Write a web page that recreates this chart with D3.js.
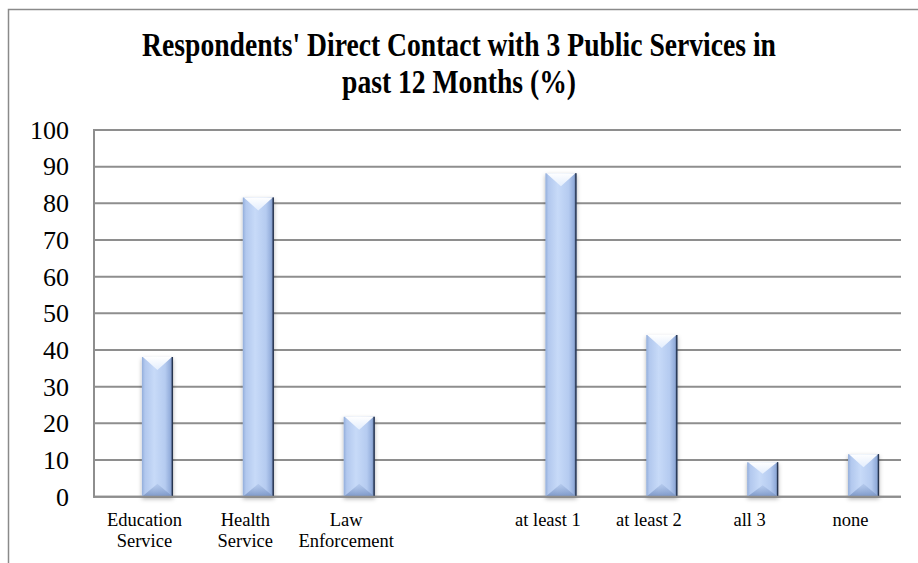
<!DOCTYPE html>
<html>
<head>
<meta charset="utf-8">
<script src="https://cdn.jsdelivr.net/npm/d3@7"></script>
<style>
  html, body { margin: 0; padding: 0; background: #fff; }
  svg { display: block; }
</style>
</head>
<body>
<svg id="chart" width="918" height="563"></svg>
<script>
// Share of respondents with direct contact, by service and by number of services
const categories = ["Education\nService", "Health\nService", "Law\nEnforcement", "", "at least 1", "at least 2", "all 3", "none"];
const values = [38.1, 81.6, 21.8, null, 88.2, 44.1, 9.4, 11.6];
const yTicks = [0, 10, 20, 30, 40, 50, 60, 70, 80, 90, 100];
const titleLines = ["Respondents' Direct Contact with 3 Public Services in", "past 12 Months (%)"];

const svg = d3.select("#chart");
const W = 918, H = 563;
const plot = { left: 94, right: 901, top: 130, bottom: 496.7 };

const x = d3.scaleBand().domain(d3.range(categories.length)).range([plot.left, plot.right]).padding(0);
const y = d3.scaleLinear().domain([0, 100]).range([plot.bottom, plot.top]);

const defs = svg.append("defs");

// Body gradient across the column width
const body = defs.append("linearGradient").attr("id", "barBody").attr("x1", 0).attr("x2", 1).attr("y1", 0).attr("y2", 0);
[["0%", "#93aedb"], ["10%", "#b2c8ee"], ["40%", "#c7daf8"], ["75%", "#b5cbf0"], ["92%", "#92acda"], ["100%", "#4d6187"]]
  .forEach(([o, c]) => body.append("stop").attr("offset", o).attr("stop-color", c));

const topBevel = defs.append("linearGradient").attr("id", "topBevel").attr("x1", 0).attr("x2", 0).attr("y1", 0).attr("y2", 1);
topBevel.append("stop").attr("offset", "0%").attr("stop-color", "#ffffff").attr("stop-opacity", 1);
topBevel.append("stop").attr("offset", "100%").attr("stop-color", "#eaf2fe").attr("stop-opacity", 0.85);

const botBevel = defs.append("linearGradient").attr("id", "botBevel").attr("x1", 0).attr("x2", 0).attr("y1", 0).attr("y2", 1);
botBevel.append("stop").attr("offset", "0%").attr("stop-color", "#9fb7e0").attr("stop-opacity", 0.4);
botBevel.append("stop").attr("offset", "100%").attr("stop-color", "#7893c4").attr("stop-opacity", 0.95);

const shadow = defs.append("filter").attr("id", "shadow").attr("x", "-30%").attr("y", "-10%").attr("width", "160%").attr("height", "130%");
shadow.append("feDropShadow").attr("dx", 0).attr("dy", 2).attr("stdDeviation", 2).attr("flood-color", "#000").attr("flood-opacity", 0.3);

// Outer frame (top and left edges visible)
svg.append("path")
  .attr("d", `M8.5,${H} L8.5,9.5 L${W},9.5`)
  .attr("fill", "none").attr("stroke", "#8a8a8a").attr("stroke-width", 1.5);

// Title, set in a narrowed bold serif
const title = svg.append("g").attr("font-family", "'Liberation Serif', 'Times New Roman', serif")
  .attr("font-weight", "bold").attr("font-size", 33).attr("fill", "#000");
const titleY = [56, 93];
const tNodes = titleLines.map((t, i) => title.append("text").attr("text-anchor", "middle").attr("y", titleY[i]).text(t));
const natural = tNodes[0].node().getComputedTextLength();
const sx = Math.min(1, 634 / natural);
tNodes.forEach(n => n.attr("transform", `translate(459,0) scale(${sx},1)`));

// Gridlines
svg.append("g").selectAll("line").data(yTicks).join("line")
  .attr("x1", plot.left).attr("x2", plot.right)
  .attr("y1", d => y(d)).attr("y2", d => y(d))
  .attr("stroke", "#8e8e8e").attr("stroke-width", 2);

// Y axis
const yAxis = svg.append("g").attr("transform", `translate(${plot.left},0)`)
  .call(d3.axisLeft(y).tickValues(yTicks).tickSize(0).tickPadding(25));
yAxis.select(".domain").remove();
yAxis.selectAll("text").attr("font-family", "'Liberation Serif', 'Times New Roman', serif")
  .attr("font-size", 26).attr("fill", "#000");

svg.append("line").attr("x1", plot.left).attr("x2", plot.left).attr("y1", plot.top - 1).attr("y2", plot.bottom + 1)
  .attr("stroke", "#8e8e8e").attr("stroke-width", 2);

// Columns with bevelled faces
const slot = x.bandwidth();
const barOff = slot * 0.475, barW = slot * 0.307;
const bars = svg.append("g").selectAll("g").data(values.map((v, i) => ({ v, i })).filter(d => d.v != null)).join("g")
  .attr("filter", "url(#shadow)");

bars.each(function (d) {
  const g = d3.select(this);
  const x0 = x(d.i) + barOff, x1 = x0 + barW, xc = (x0 + x1) / 2;
  const y0 = y(d.v), y1 = y(0);
  const bev = Math.min(13, (y1 - y0) / 3);
  g.append("rect").attr("x", x0).attr("y", y0).attr("width", barW).attr("height", y1 - y0).attr("fill", "url(#barBody)");
  g.append("path").attr("d", `M${x0},${y1} L${x1},${y1} L${xc},${y1 - bev} Z`).attr("fill", "url(#botBevel)");
  g.append("path").attr("d", `M${x0 + 1},${y0} L${x1 - 1},${y0} L${xc},${y0 + bev} Z`).attr("fill", "url(#topBevel)");
  g.append("line").attr("x1", x1 - 0.5).attr("x2", x1 - 0.5).attr("y1", y0).attr("y2", y1)
    .attr("stroke", "#263450").attr("stroke-width", 1.3);
});

// Baseline
svg.append("line").attr("x1", plot.left - 1).attr("x2", plot.right).attr("y1", plot.bottom).attr("y2", plot.bottom)
  .attr("stroke", "#8e8e8e").attr("stroke-width", 2);

// Category labels
const labels = svg.append("g").attr("font-family", "'Liberation Serif', 'Times New Roman', serif")
  .attr("font-size", 18.5).attr("fill", "#000").attr("text-anchor", "middle");
categories.forEach((c, i) => {
  if (!c) return;
  const t = labels.append("text").attr("x", x(i) + slot / 2).attr("y", 526);
  c.split("\n").forEach((line, k) => {
    t.append("tspan").attr("x", x(i) + slot / 2).attr("dy", k === 0 ? 0 : 20.5).text(line);
  });
});
</script>
</body>
</html>
